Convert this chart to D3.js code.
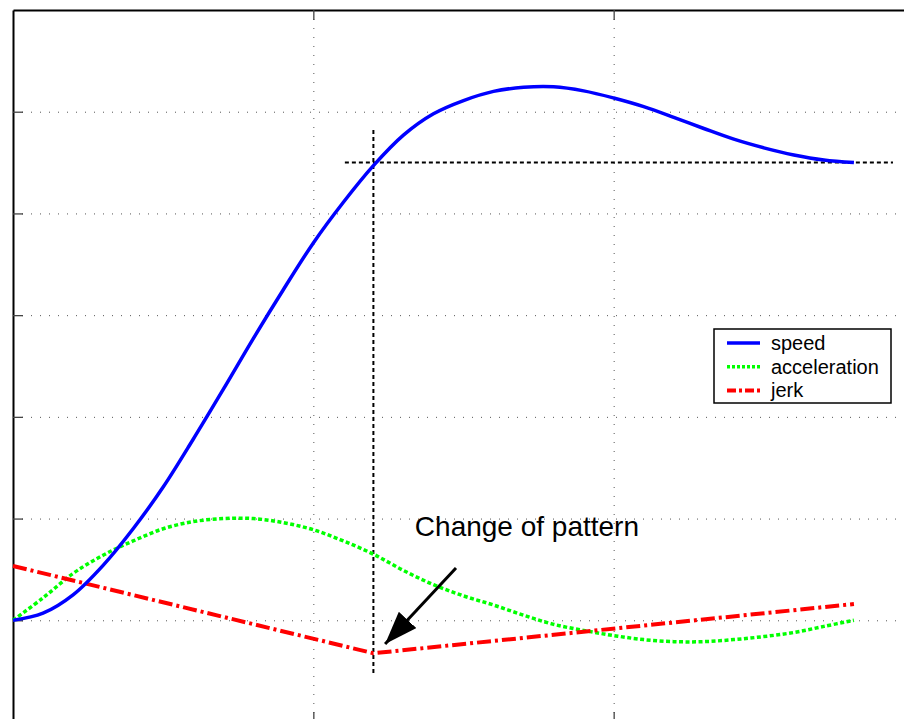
<!DOCTYPE html>
<html>
<head>
<meta charset="utf-8">
<script src="https://cdn.jsdelivr.net/npm/d3@7"></script>
<style>
  html, body { margin: 0; padding: 0; background: #fff; }
  svg { display: block; }
  text { font-family: "Liberation Sans", Arial, Helvetica, sans-serif; }
</style>
</head>
<body>
<svg id="chart" width="904" height="719"></svg>
<script>
// ---- data ----
const time = [0,0.1,0.2,0.3,0.4,0.5,0.6,0.7,0.8,0.9,1.0,1.1,1.2,1.3,1.4,1.5,1.6,1.7,1.8,1.9,2.0,2.1,2.2,2.3,2.4,2.5,2.6,2.7,2.8];
const speed = [0,0.07,0.25,0.54,0.90,1.31,1.78,2.27,2.77,3.25,3.71,4.11,4.47,4.77,4.98,5.11,5.20,5.24,5.245,5.205,5.135,5.05,4.945,4.835,4.73,4.645,4.575,4.525,4.50];
const acceleration = [0,0.22,0.46,0.64,0.78,0.90,0.97,1.00,1.00,0.96,0.89,0.78,0.65,0.49,0.35,0.24,0.15,0.05,-0.04,-0.10,-0.15,-0.19,-0.21,-0.21,-0.19,-0.16,-0.12,-0.06,0.0];
const jerkTime = [0, 1.2, 2.8];
const jerk = [0.534, -0.324, 0.16];
const seriesNames = ["speed", "acceleration", "jerk"];
const xTicks = [1, 2];
const yTicks = [0, 1, 2, 3, 4, 5];
const xDomain = [0, 3];
const yDomain = [-1, 6];
// reference marks: pattern change point
const changeT = 1.2;
const changeV = 4.5;
const vLineRange = [-0.54, 4.82];
const hLineRange = [1.105, 2.93];
const annotationText = "Change of pattern";
const arrowFrom = [1.475, 0.514];
const arrowTo = [1.239, -0.234];
const textAnchorPt = [1.338, 0.83];

// ---- scales ----
const svg = d3.select("#chart");
const x = d3.scaleLinear().domain(xDomain).range([13, 914]);
const y = d3.scaleLinear().domain(yDomain).range([722, 10]);

const colors = { speed: "#0000ff", acceleration: "#00ff00", jerk: "#ff0000" };
const dashes = { speed: null, acceleration: "4,2.5", jerk: "14,4,3,4" };
const widths = { speed: 3.5, acceleration: 3.5, jerk: 4 };

// ---- grid ----
const gridColor = "#555";
svg.append("g")
  .attr("transform", `translate(${x(0)},0)`)
  .call(d3.axisLeft(y).tickValues(yTicks).tickSize(-(x(3) - x(0))).tickFormat(""))
  .call(g => g.select(".domain").remove())
  .call(g => g.selectAll("line").attr("stroke", gridColor).attr("stroke-width", 1).attr("stroke-dasharray", "1,8"));

svg.append("g")
  .attr("transform", `translate(0,${y(-1)})`)
  .call(d3.axisBottom(x).tickValues(xTicks).tickSize(-(y(-1) - y(6))).tickFormat(""))
  .call(g => g.select(".domain").remove())
  .call(g => g.selectAll("line").attr("stroke", gridColor).attr("stroke-width", 1).attr("stroke-dasharray", "1,8"));

// ---- axes (tick marks, frame) ----
svg.append("g")
  .attr("transform", `translate(${x(0)},0)`)
  .call(d3.axisLeft(y).tickValues(yTicks).tickSize(-10).tickSizeOuter(0).tickFormat(""))
  .call(g => g.select(".domain").attr("stroke", "#000").attr("stroke-width", 2))
  .call(g => g.selectAll(".tick line").attr("stroke", "#444").attr("stroke-width", 1.3));

svg.append("g")
  .attr("transform", `translate(0,${y(6)})`)
  .call(d3.axisTop(x).tickValues(xTicks).tickSize(-10).tickSizeOuter(0).tickFormat(""))
  .call(g => g.select(".domain").attr("stroke", "#000").attr("stroke-width", 2))
  .call(g => g.selectAll(".tick line").attr("stroke", "#444").attr("stroke-width", 1.3));

svg.append("g")
  .attr("transform", `translate(0,${y(-1)})`)
  .call(d3.axisBottom(x).tickValues(xTicks).tickSize(-10).tickSizeOuter(0).tickFormat(""))
  .call(g => g.select(".domain").attr("stroke", "#000").attr("stroke-width", 2))
  .call(g => g.selectAll(".tick line").attr("stroke", "#444").attr("stroke-width", 1.3));

// ---- reference dashed lines ----
svg.append("line")
  .attr("x1", x(changeT)).attr("x2", x(changeT))
  .attr("y1", y(vLineRange[1])).attr("y2", y(vLineRange[0]))
  .attr("stroke", "#000").attr("stroke-width", 2).attr("stroke-dasharray", "4,3");
svg.append("line")
  .attr("x1", x(hLineRange[0])).attr("x2", x(hLineRange[1]))
  .attr("y1", y(changeV)).attr("y2", y(changeV))
  .attr("stroke", "#000").attr("stroke-width", 2).attr("stroke-dasharray", "4,3");

// ---- series ----
const smooth = d3.line().x(d => x(d[0])).y(d => y(d[1])).curve(d3.curveCatmullRom.alpha(0.5));
const straight = d3.line().x(d => x(d[0])).y(d => y(d[1]));

const seriesData = {
  speed: time.map((t, i) => [t, speed[i]]),
  acceleration: time.map((t, i) => [t, acceleration[i]]),
  jerk: jerkTime.map((t, i) => [t, jerk[i]])
};

["acceleration", "jerk", "speed"].forEach(name => {
  svg.append("path")
    .datum(seriesData[name])
    .attr("d", name === "jerk" ? straight : smooth)
    .attr("fill", "none")
    .attr("stroke", colors[name])
    .attr("stroke-width", widths[name])
    .attr("stroke-dasharray", dashes[name])
    .attr("stroke-linejoin", "round");
});

// ---- annotation ----
svg.append("text")
  .attr("x", x(textAnchorPt[0])).attr("y", y(textAnchorPt[1]))
  .attr("font-size", 28)
  .attr("fill", "#000")
  .text(annotationText);

const defs = svg.append("defs");
defs.append("marker")
  .attr("id", "arrowhead")
  .attr("viewBox", "0 0 11 8")
  .attr("refX", 11).attr("refY", 4)
  .attr("markerWidth", 11).attr("markerHeight", 8)
  .attr("markerUnits", "strokeWidth")
  .attr("orient", "auto")
  .append("path").attr("d", "M0,0 L11,4 L0,8 Z").attr("fill", "#000");

svg.append("line")
  .attr("x1", x(arrowFrom[0])).attr("y1", y(arrowFrom[1]))
  .attr("x2", x(arrowTo[0])).attr("y2", y(arrowTo[1]))
  .attr("stroke", "#000").attr("stroke-width", 3)
  .attr("marker-end", "url(#arrowhead)");

// ---- legend ----
const legend = svg.append("g").attr("transform", "translate(714,329)");
legend.append("rect")
  .attr("width", 177).attr("height", 74)
  .attr("fill", "#fff").attr("stroke", "#000").attr("stroke-width", 1.5);
seriesNames.forEach((name, i) => {
  const yy = 14 + i * 23.7;
  legend.append("line")
    .attr("x1", 13).attr("x2", 46).attr("y1", yy).attr("y2", yy)
    .attr("stroke", colors[name]).attr("stroke-width", widths[name])
    .attr("stroke-dasharray", name === "acceleration" ? "3,2" : name === "jerk" ? "9,3,3,3" : null);
  legend.append("text")
    .attr("x", 57).attr("y", yy + 7)
    .attr("font-size", 20)
    .attr("fill", "#000")
    .text(name);
});
</script>
</body>
</html>
